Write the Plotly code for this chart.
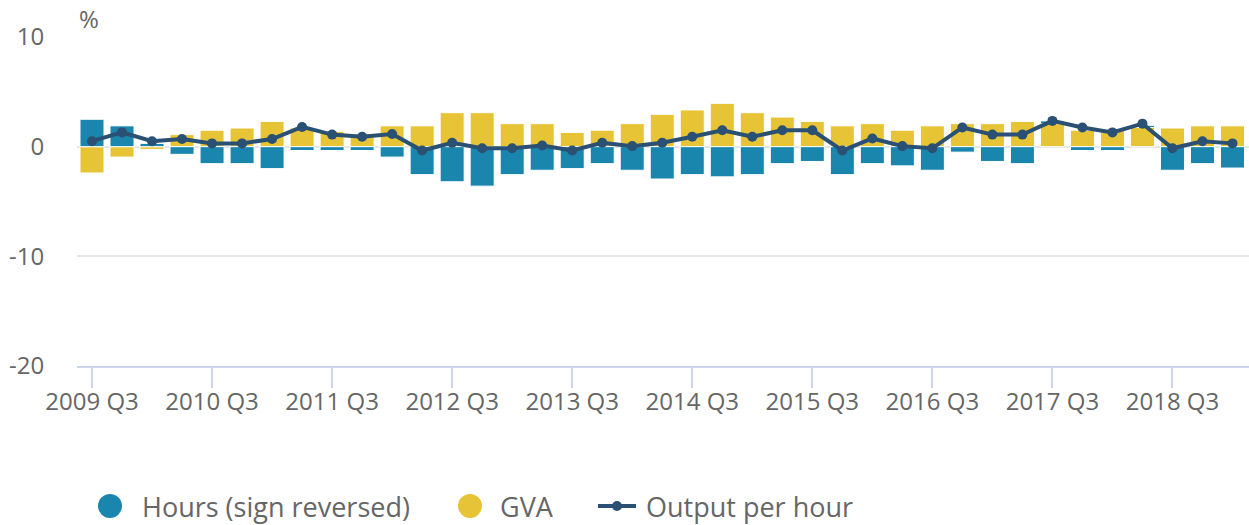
import plotly.graph_objects as go

# ---- data ----
quarters = []
for y in range(2009, 2020):
    for q in (1, 2, 3, 4):
        if (y, q) < (2009, 3) or (y, q) > (2019, 1):
            continue
        quarters.append(f"{y} Q{q}")

hours_sign_reversed = [2.5, 1.9, 0.3, -0.7, -1.55, -1.55, -2.0, -0.35, -0.35, -0.35,
                       -0.95, -2.55, -3.2, -3.6, -2.55, -2.15, -2.0, -1.55, -2.15, -2.95,
                       -2.55, -2.75, -2.55, -1.55, -1.35, -2.55, -1.55, -1.75, -2.15, -0.5,
                       -1.35, -1.55, 0.25, -0.35, -0.35, 0.2, -2.15, -1.55, -1.95]
gva = [-2.4, -0.95, -0.25, 1.1, 1.5, 1.7, 2.3, 1.7, 1.4, 1.15,
       1.9, 1.9, 3.1, 3.1, 2.1, 2.1, 1.3, 1.5, 2.1, 2.95,
       3.35, 3.95, 3.1, 2.7, 2.3, 1.9, 2.1, 1.5, 1.9, 2.1,
       2.1, 2.3, 2.1, 1.5, 1.5, 1.75, 1.7, 1.9, 1.9]
output_per_hour = [0.5, 1.3, 0.5, 0.7, 0.3, 0.3, 0.7, 1.8, 1.1, 0.9,
                   1.15, -0.35, 0.35, -0.15, -0.15, 0.1, -0.35, 0.35, 0.05, 0.35,
                   0.9, 1.5, 0.9, 1.5, 1.5, -0.35, 0.75, 0.05, -0.15, 1.75,
                   1.1, 1.1, 2.35, 1.75, 1.3, 2.1, -0.15, 0.5, 0.3]

tick_labels = [q for q in quarters if q.endswith("Q3")]
y_ticks = [-20, -10, 0, 10]
y_tick_text = ["-20", "-10", "0", "10"]
series_names = ["Hours (sign reversed)", "GVA", "Output per hour"]

BLUE = "#1a85ad"
YELLOW = "#e6c435"
NAVY = "#2a5073"
GRID = "#e6e6e6"
AXIS = "#ccd6eb"
TEXT = "#666666"
FONT = "Open Sans"

W, H = 1249, 525
ML, MR, MT, MB = 77, 0, 37, 159
PW = W - ML - MR
PH = H - MT - MB


def px2x(px):
    return (px - ML) / PW


def px2y(py):
    return (H - MB - py) / PH


fig = go.Figure()
fig.add_trace(go.Bar(x=quarters, y=gva, name=series_names[1], marker=dict(color=YELLOW, line=dict(color="white", width=1))))
fig.add_trace(go.Bar(x=quarters, y=hours_sign_reversed, name=series_names[0], marker=dict(color=BLUE, line=dict(color="white", width=1))))
fig.add_trace(go.Scatter(x=quarters, y=output_per_hour, name=series_names[2], mode="lines+markers",
                         line=dict(color=NAVY, width=4), marker=dict(color=NAVY, size=10)))

fig.update_layout(
    width=W, height=H,
    margin=dict(l=ML, r=MR, t=MT, b=MB, pad=0),
    plot_bgcolor="white", paper_bgcolor="white",
    barmode="relative", bargap=0.2,
    showlegend=False,
    font=dict(family=FONT, color=TEXT),
)
fig.update_xaxes(
    type="category", categoryorder="array", categoryarray=quarters,
    range=[-0.5, len(quarters) - 0.45],
    tickmode="array", tickvals=tick_labels, ticktext=tick_labels,
    ticks="outside", ticklen=20, tickwidth=2, tickcolor=AXIS,
    ticklabelstandoff=-7,
    showline=True, linecolor=AXIS, linewidth=2,
    showgrid=False, zeroline=False,
    tickfont=dict(size=24, color=TEXT, family=FONT),
)
fig.update_yaxes(
    range=[-20, 10], tickmode="array", tickvals=y_ticks, ticktext=y_tick_text,
    showgrid=True, gridcolor=GRID, gridwidth=2,
    zeroline=True, zerolinecolor=GRID, zerolinewidth=2,
    ticks="outside", ticklen=27, tickcolor="rgba(0,0,0,0)",
    showline=False,
    tickfont=dict(size=24, color=TEXT, family=FONT),
)

annotations = [
    dict(text="%", xref="paper", yref="paper", x=0, y=1, xanchor="left", yanchor="bottom",
         showarrow=False, font=dict(size=24, color=TEXT, family=FONT)),
]
shapes = []
ly = px2y(506)
# legend: circle swatches
for cx, col in ((110, BLUE), (470, YELLOW)):
    shapes.append(dict(type="circle", xref="paper", yref="paper", xsizemode="pixel", ysizemode="pixel",
                       xanchor=px2x(cx), yanchor=ly, x0=-12, x1=12, y0=-12, y1=12,
                       fillcolor=col, line=dict(width=0)))
# legend: line swatch
shapes.append(dict(type="line", xref="paper", yref="paper", x0=px2x(598), x1=px2x(636), y0=ly, y1=ly,
                   line=dict(color=NAVY, width=4)))
shapes.append(dict(type="circle", xref="paper", yref="paper", xsizemode="pixel", ysizemode="pixel",
                   xanchor=px2x(617), yanchor=ly, x0=-5, x1=5, y0=-5, y1=5,
                   fillcolor=NAVY, line=dict(width=0)))
for tx, name in ((140, series_names[0]), (498, series_names[1]), (644, series_names[2])):
    annotations.append(dict(text=name, xref="paper", yref="paper", x=px2x(tx), y=ly,
                            xanchor="left", yanchor="middle", showarrow=False,
                            font=dict(size=27, color=TEXT, family=FONT)))
fig.update_layout(annotations=annotations, shapes=shapes)

fig.write_html("out.html", config={"displayModeBar": False},
               post_script="document.body.style.margin='0';document.body.style.overflow='hidden';")
